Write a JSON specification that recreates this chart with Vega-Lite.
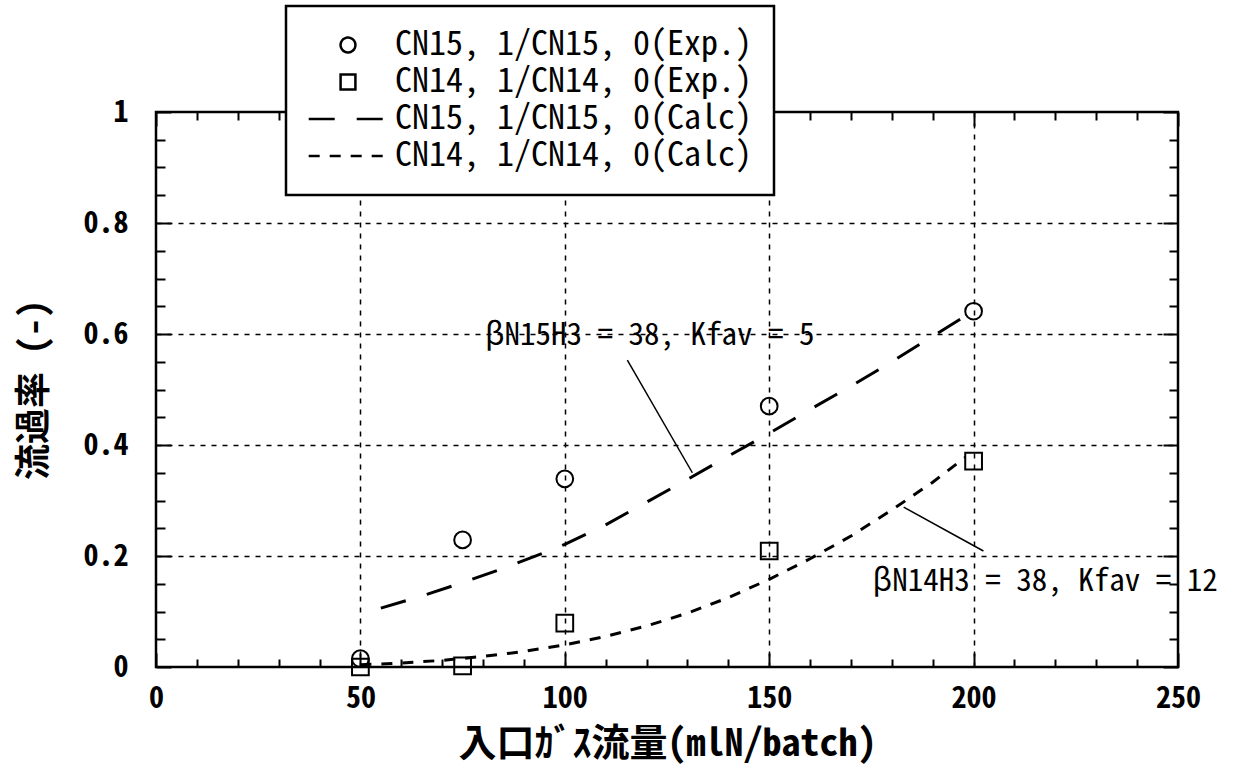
{
  "$schema": "https://vega.github.io/schema/vega-lite/v6.json",
  "width": 1022,
  "height": 555,
  "autosize": {"type": "none"},
  "padding": {"left": 156, "top": 112, "right": 60, "bottom": 108},
  "background": "white",
  "config": {
    "font": "Noto Sans Mono CJK JP, DejaVu Sans Mono, monospace",
    "view": {"stroke": "black", "strokeWidth": 2.5},
    "axis": {
      "domain": false,
      "labelColor": "black",
      "labelFont": "Noto Sans Mono CJK JP, DejaVu Sans Mono, monospace",
      "labelFontSize": 30,
      "labelFontWeight": "bold",
      "labelFlush": false,
      "labelOverlap": false,
      "tickColor": "black",
      "tickWidth": 2,
      "titleColor": "black",
      "titleFont": "Noto Sans Mono CJK JP, DejaVu Sans Mono, monospace",
      "titleFontSize": 36,
      "titleFontWeight": "bold",
      "gridColor": "black",
      "gridWidth": 1.5,
      "gridDash": [5, 6]
    }
  },
  "datasets": {
    "exp": [
      {"series": "CN15, 1/CN15, 0(Exp.)", "x": 50, "y": 0.015},
      {"series": "CN15, 1/CN15, 0(Exp.)", "x": 75, "y": 0.229},
      {"series": "CN15, 1/CN15, 0(Exp.)", "x": 100, "y": 0.339},
      {"series": "CN15, 1/CN15, 0(Exp.)", "x": 150, "y": 0.47},
      {"series": "CN15, 1/CN15, 0(Exp.)", "x": 200, "y": 0.641},
      {"series": "CN14, 1/CN14, 0(Exp.)", "x": 50, "y": 0.0},
      {"series": "CN14, 1/CN14, 0(Exp.)", "x": 75, "y": 0.002},
      {"series": "CN14, 1/CN14, 0(Exp.)", "x": 100, "y": 0.079},
      {"series": "CN14, 1/CN14, 0(Exp.)", "x": 150, "y": 0.209},
      {"series": "CN14, 1/CN14, 0(Exp.)", "x": 200, "y": 0.371}
    ],
    "calc": [
      {"series": "CN15, 1/CN15, 0(Calc)", "x": 55, "y": 0.106},
      {"series": "CN15, 1/CN15, 0(Calc)", "x": 65, "y": 0.128},
      {"series": "CN15, 1/CN15, 0(Calc)", "x": 75, "y": 0.152},
      {"series": "CN15, 1/CN15, 0(Calc)", "x": 85, "y": 0.178},
      {"series": "CN15, 1/CN15, 0(Calc)", "x": 95, "y": 0.206},
      {"series": "CN15, 1/CN15, 0(Calc)", "x": 100, "y": 0.221},
      {"series": "CN15, 1/CN15, 0(Calc)", "x": 110, "y": 0.256},
      {"series": "CN15, 1/CN15, 0(Calc)", "x": 120, "y": 0.297},
      {"series": "CN15, 1/CN15, 0(Calc)", "x": 130, "y": 0.338},
      {"series": "CN15, 1/CN15, 0(Calc)", "x": 140, "y": 0.38},
      {"series": "CN15, 1/CN15, 0(Calc)", "x": 150, "y": 0.421},
      {"series": "CN15, 1/CN15, 0(Calc)", "x": 160, "y": 0.464},
      {"series": "CN15, 1/CN15, 0(Calc)", "x": 170, "y": 0.506},
      {"series": "CN15, 1/CN15, 0(Calc)", "x": 180, "y": 0.55},
      {"series": "CN15, 1/CN15, 0(Calc)", "x": 190, "y": 0.596},
      {"series": "CN15, 1/CN15, 0(Calc)", "x": 197, "y": 0.628},
      {"series": "CN14, 1/CN14, 0(Calc)", "x": 50, "y": 0.004},
      {"series": "CN14, 1/CN14, 0(Calc)", "x": 60, "y": 0.007},
      {"series": "CN14, 1/CN14, 0(Calc)", "x": 70, "y": 0.012},
      {"series": "CN14, 1/CN14, 0(Calc)", "x": 80, "y": 0.019},
      {"series": "CN14, 1/CN14, 0(Calc)", "x": 90, "y": 0.028},
      {"series": "CN14, 1/CN14, 0(Calc)", "x": 100, "y": 0.04},
      {"series": "CN14, 1/CN14, 0(Calc)", "x": 110, "y": 0.055},
      {"series": "CN14, 1/CN14, 0(Calc)", "x": 120, "y": 0.074},
      {"series": "CN14, 1/CN14, 0(Calc)", "x": 130, "y": 0.097},
      {"series": "CN14, 1/CN14, 0(Calc)", "x": 140, "y": 0.125},
      {"series": "CN14, 1/CN14, 0(Calc)", "x": 150, "y": 0.158},
      {"series": "CN14, 1/CN14, 0(Calc)", "x": 160, "y": 0.195},
      {"series": "CN14, 1/CN14, 0(Calc)", "x": 170, "y": 0.236},
      {"series": "CN14, 1/CN14, 0(Calc)", "x": 180, "y": 0.283},
      {"series": "CN14, 1/CN14, 0(Calc)", "x": 190, "y": 0.333},
      {"series": "CN14, 1/CN14, 0(Calc)", "x": 198, "y": 0.378}
    ],
    "leaders": [
      {"x": 115.3, "y": 0.553, "x2": 131.2, "y2": 0.35},
      {"x": 182.9, "y": 0.288, "x2": 202.4, "y2": 0.209}
    ],
    "notes": [
      {"label": "βN15H3 = 38, Kfav = 5", "x": 120.8, "y": 0.597},
      {"label": "βN14H3 = 38, Kfav = 12", "x": 217.5, "y": 0.153}
    ]
  },
  "layer": [
    {
      "data": {"name": "exp"},
      "mark": {"type": "point", "filled": false, "size": 280, "strokeWidth": 2, "color": "black", "opacity": 1},
      "encoding": {
        "x": {
          "field": "x", "type": "quantitative",
          "scale": {"domain": [0, 250], "nice": false, "zero": false},
          "axis": {
            "orient": "bottom",
            "values": [0, 10, 20, 30, 40, 50, 60, 70, 80, 90, 100, 110, 120, 130, 140, 150, 160, 170, 180, 190, 200, 210, 220, 230, 240, 250],
            "format": "d",
            "labelExpr": "datum.value % 50 === 0 ? datum.label : ''",
            "labelPadding": 30,
            "tickSize": {"condition": {"test": "datum.value % 50 === 0", "value": -14}, "value": -8},
            "grid": true,
            "gridOpacity": {"condition": {"test": "datum.value % 50 === 0 && datum.value > 0 && datum.value < 250", "value": 1}, "value": 0},
            "title": "入口ｶﾞｽ流量(mlN/batch)",
            "titleFontSize": 38,
            "titlePadding": 6
          }
        },
        "y": {
          "field": "y", "type": "quantitative",
          "scale": {"domain": [0, 1], "nice": false, "zero": false},
          "axis": {
            "orient": "left",
            "values": [0, 0.05, 0.1, 0.15, 0.2, 0.25, 0.3, 0.35, 0.4, 0.45, 0.5, 0.55, 0.6, 0.65, 0.7, 0.75, 0.8, 0.85, 0.9, 0.95, 1],
            "format": "~g",
            "labelExpr": "round(datum.value * 100) % 20 === 0 ? datum.label : ''",
            "labelPadding": 43,
            "tickSize": {"condition": {"test": "round(datum.value * 100) % 20 === 0", "value": -15}, "value": -9},
            "grid": true,
            "gridOpacity": {"condition": {"test": "round(datum.value * 100) % 20 === 0 && datum.value > 0 && datum.value < 1", "value": 1}, "value": 0},
            "title": "流過率 (-)",
            "titlePadding": 30
          }
        },
        "shape": {
          "field": "series", "type": "nominal",
          "scale": {
            "domain": ["CN15, 1/CN15, 0(Exp.)", "CN14, 1/CN14, 0(Exp.)", "CN15, 1/CN15, 0(Calc)", "CN14, 1/CN14, 0(Calc)"],
            "range": ["circle", "square", "M-5.3,0H5.3", "M-5.3,0H5.3"]
          },
          "legend": {
            "title": null,
            "orient": "none",
            "legendX": 130,
            "legendY": -106,
            "fillColor": "white",
            "strokeColor": "black",
            "padding": 22,
            "rowPadding": 3,
            "labelFont": "Noto Sans Mono CJK JP, DejaVu Sans Mono, monospace",
            "labelFontSize": 34,
            "labelColor": "black",
            "labelLimit": 0,
            "labelOffset": 30,
            "symbolOffset": 23,
            "symbolSize": 220,
            "symbolStrokeColor": "black",
            "symbolStrokeWidth": 2.5,
            "symbolFillColor": "transparent",
            "encode": {"legend": {"update": {"strokeWidth": {"value": 2.5}}}}
          }
        }
      }
    },
    {
      "data": {"name": "calc"},
      "mark": {"type": "line", "color": "black", "strokeWidth": 3},
      "encoding": {
        "x": {
          "field": "x", "type": "quantitative",
          "axis": {
            "orient": "top",
            "values": [0, 10, 20, 30, 40, 50, 60, 70, 80, 90, 100, 110, 120, 130, 140, 150, 160, 170, 180, 190, 200, 210, 220, 230, 240, 250],
            "labels": false,
            "grid": false,
            "tickSize": {"condition": {"test": "datum.value % 50 === 0", "value": -14}, "value": -8},
            "title": null
          }
        },
        "y": {
          "field": "y", "type": "quantitative",
          "axis": {
            "orient": "right",
            "values": [0, 0.05, 0.1, 0.15, 0.2, 0.25, 0.3, 0.35, 0.4, 0.45, 0.5, 0.55, 0.6, 0.65, 0.7, 0.75, 0.8, 0.85, 0.9, 0.95, 1],
            "labels": false,
            "grid": false,
            "tickSize": {"condition": {"test": "round(datum.value * 100) % 20 === 0", "value": -15}, "value": -9},
            "title": null
          }
        },
        "strokeDash": {
          "field": "series", "type": "nominal",
          "scale": {
            "domain": ["CN15, 1/CN15, 0(Exp.)", "CN14, 1/CN14, 0(Exp.)", "CN15, 1/CN15, 0(Calc)", "CN14, 1/CN14, 0(Calc)"],
            "range": [[1, 0], [1, 0], [26, 22], [11, 10]]
          },
          "legend": {
            "title": null,
            "orient": "none",
            "legendX": 130,
            "legendY": -106,
            "fillColor": "white",
            "strokeColor": "black",
            "padding": 22,
            "rowPadding": 3,
            "labelFont": "Noto Sans Mono CJK JP, DejaVu Sans Mono, monospace",
            "labelFontSize": 34,
            "labelColor": "black",
            "labelLimit": 0,
            "labelOffset": 30,
            "symbolOffset": 23,
            "symbolSize": 220,
            "symbolStrokeColor": "black",
            "symbolStrokeWidth": 2.5,
            "symbolFillColor": "transparent",
            "encode": {"legend": {"update": {"strokeWidth": {"value": 2.5}}}}
          }
        }
      }
    },
    {
      "data": {"name": "leaders"},
      "mark": {"type": "rule", "color": "black", "strokeWidth": 1.5},
      "encoding": {
        "x": {"field": "x", "type": "quantitative", "axis": null},
        "y": {"field": "y", "type": "quantitative", "axis": null},
        "x2": {"field": "x2"},
        "y2": {"field": "y2"}
      }
    },
    {
      "data": {"name": "notes"},
      "mark": {"type": "text", "fontSize": 31, "align": "center", "baseline": "middle", "color": "black", "font": "Noto Sans Mono CJK JP, DejaVu Sans Mono, monospace"},
      "encoding": {
        "x": {"field": "x", "type": "quantitative", "axis": null},
        "y": {"field": "y", "type": "quantitative", "axis": null},
        "text": {"field": "label"}
      }
    }
  ],
  "resolve": {"axis": {"x": "independent", "y": "independent"}}
}
